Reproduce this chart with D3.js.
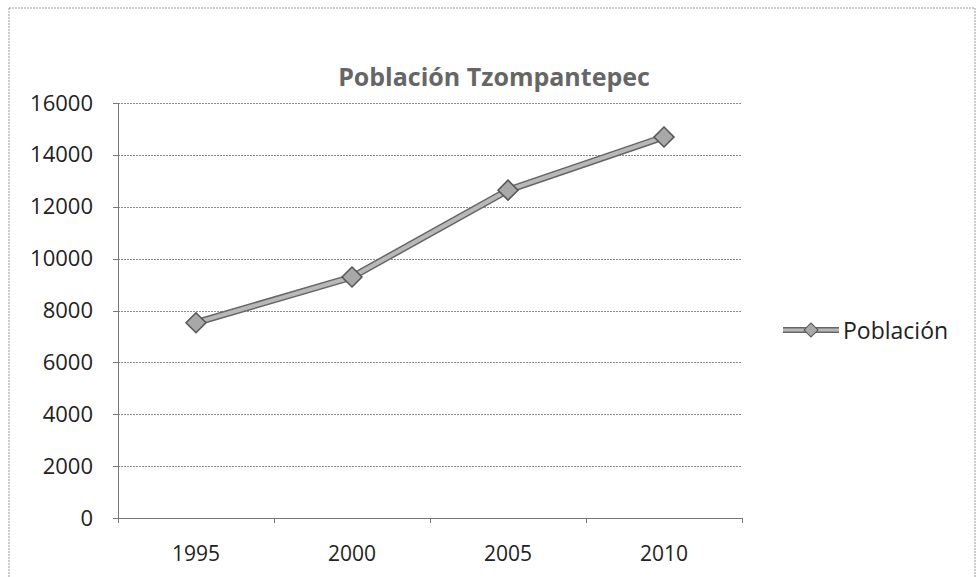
<!DOCTYPE html>
<html>
  <head>
    <meta charset="utf-8">
    <title>Población Tzompantepec</title>
    <script src="https://d3js.org/d3.v7.min.js"></script>
    <style>
      body { margin: 0; background: #fff; }
      text { font-family: "Open Sans", "Noto Sans", sans-serif; fill: #222; }
      .grid line { stroke: #8a8a8a; stroke-dasharray: 2,1; }
      .axis path, .axis line { stroke: #777; shape-rendering: crispEdges; }
    </style>
  </head>
  <body>
    <svg width="980" height="577"></svg>
    <script>
      // data
      const years = ["1995", "2000", "2005", "2010"];
      const population = [7530, 9290, 12640, 14690];
      const yTicks = [0, 2000, 4000, 6000, 8000, 10000, 12000, 14000, 16000];

      const data = years.map((y, i) => ({ year: y, value: population[i] }));

      const margin = { top: 103, left: 118 };
      const width = 624;
      const height = 415;

      const svg = d3.select("svg");

      // outer chart border
      svg.append("rect")
        .attr("x", 9).attr("y", 8)
        .attr("width", 966).attr("height", 580)
        .attr("fill", "none")
        .attr("stroke", "#999")
        .attr("stroke-dasharray", "2,1");

      const g = svg.append("g")
        .attr("transform", `translate(${margin.left},${margin.top})`);

      const x = d3.scaleBand().domain(years).range([0, width]);
      const y = d3.scaleLinear().domain([0, 16000]).range([height, 0]);

      // title
      svg.append("text")
        .attr("x", 494).attr("y", 86)
        .attr("text-anchor", "middle")
        .style("font-size", "25px")
        .style("font-weight", "bold")
        .style("fill", "#666")
        .text("Población Tzompantepec");

      // gridlines
      g.append("g")
        .attr("class", "grid")
        .selectAll("line")
        .data(yTicks.filter(d => d > 0))
        .enter().append("line")
        .attr("x1", 0).attr("x2", width)
        .attr("y1", d => Math.round(y(d)) + 0.5)
        .attr("y2", d => Math.round(y(d)) + 0.5);

      // y axis
      const yAxis = g.append("g")
        .attr("class", "axis")
        .call(d3.axisLeft(y).tickValues(yTicks).tickSize(5).tickPadding(20).tickFormat(d3.format("d")));
      yAxis.selectAll("text").style("font-size", "22px");

      // x axis, ticks between categories
      const xAxis = g.append("g")
        .attr("class", "axis")
        .attr("transform", `translate(0,${height})`)
        .call(d3.axisBottom(x).tickSize(0).tickPadding(28));
      xAxis.selectAll("text").style("font-size", "21px");
      xAxis.selectAll(".boundary")
        .data(d3.range(years.length + 1))
        .enter().append("line")
        .attr("class", "boundary")
        .attr("x1", i => i * x.step()).attr("x2", i => i * x.step())
        .attr("y1", 0).attr("y2", 5)
        .attr("stroke", "#777");

      const line = d3.line()
        .x(d => x(d.year) + x.bandwidth() / 2)
        .y(d => y(d.value));

      g.append("path").datum(data)
        .attr("d", line)
        .attr("fill", "none")
        .attr("stroke", "#666")
        .attr("stroke-width", 7);
      g.append("path").datum(data)
        .attr("d", line)
        .attr("fill", "none")
        .attr("stroke", "#b8b8b8")
        .attr("stroke-width", 4);

      g.selectAll(".dot")
        .data(data)
        .enter().append("path")
        .attr("class", "dot")
        .attr("transform", d => `translate(${x(d.year) + x.bandwidth() / 2},${y(d.value)}) rotate(45)`)
        .attr("d", d3.symbol().type(d3.symbolSquare).size(200))
        .attr("fill", "#a8a8a8")
        .attr("stroke", "#555")
        .attr("stroke-width", 1.5);

      // legend
      const legend = svg.append("g").attr("transform", "translate(783,330)");
      legend.append("line")
        .attr("x1", 0).attr("x2", 56)
        .attr("stroke", "#666").attr("stroke-width", 6);
      legend.append("line")
        .attr("x1", 0).attr("x2", 56)
        .attr("stroke", "#b8b8b8").attr("stroke-width", 3);
      legend.append("path")
        .attr("transform", "translate(28,0) rotate(45)")
        .attr("d", d3.symbol().type(d3.symbolSquare).size(100))
        .attr("fill", "#a8a8a8")
        .attr("stroke", "#555");
      legend.append("text")
        .attr("x", 60).attr("y", 9)
        .style("font-size", "23px")
        .text("Población");
    </script>
  </body>
</html>
